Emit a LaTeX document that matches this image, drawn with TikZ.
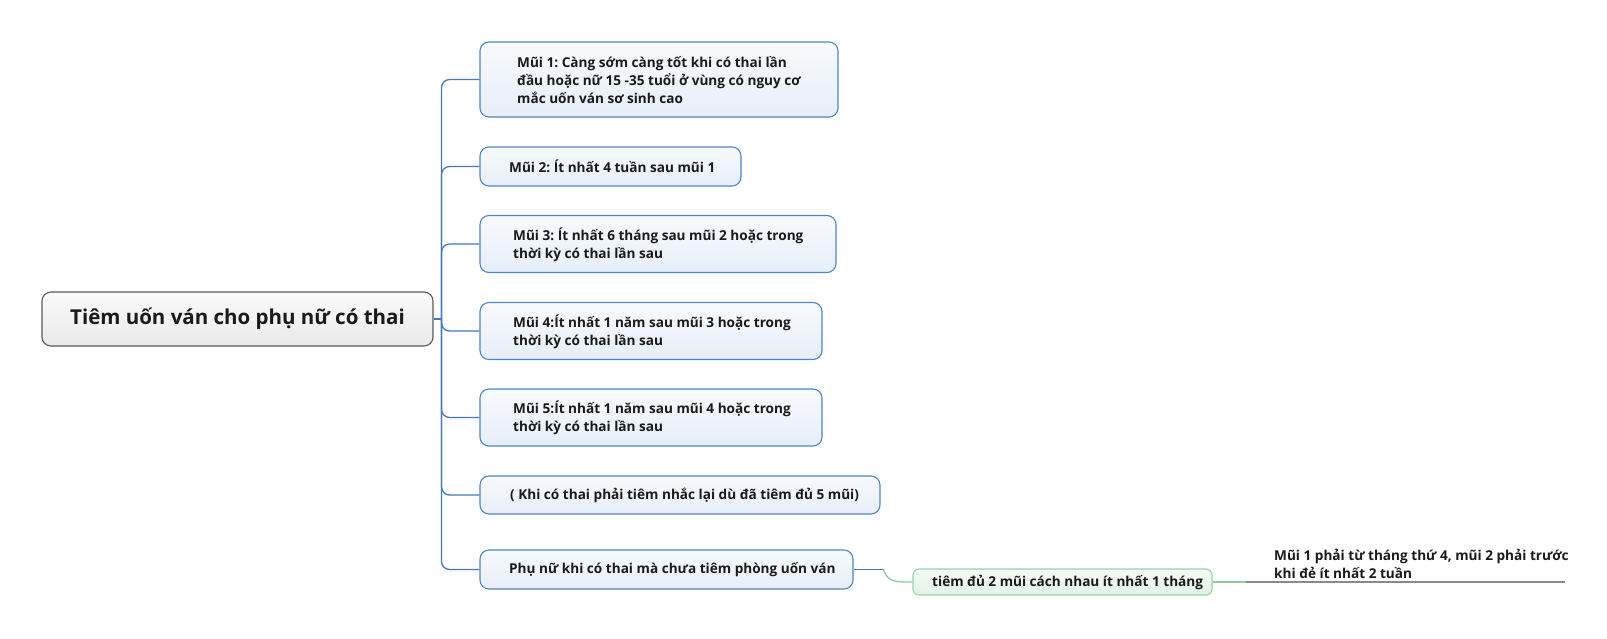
\documentclass[tikz,border=0pt]{standalone}
\usepackage{fontspec}
\setmainfont{Open Sans}
\frenchspacing
\usetikzlibrary{calc}
\definecolor{linkblue}{HTML}{4678BB}
\definecolor{boxborder}{HTML}{4F85C9}
\definecolor{boxtop}{HTML}{F8FAFD}
\definecolor{boxbot}{HTML}{E7EEF8}
\definecolor{rootborder}{HTML}{5A5A5A}
\definecolor{roottop}{HTML}{FAFAFA}
\definecolor{rootbot}{HTML}{EAEAEA}
\definecolor{gborder}{HTML}{94D3A8}
\definecolor{gtop}{HTML}{F5FBF6}
\definecolor{gbot}{HTML}{E3F2E7}
\definecolor{glink}{HTML}{8CCBA0}
\definecolor{txtcol}{HTML}{1A1A1A}
\definecolor{ulgray}{HTML}{8A8A8A}
\begin{document}
\begin{tikzpicture}[x=1pt,y=-1pt,
  topicbox/.style={draw=boxborder, line width=1.1pt, rounded corners=9pt,
    top color=boxtop, bottom color=boxbot, inner sep=0pt},
  rootbox/.style={draw=rootborder, line width=1.1pt, rounded corners=9pt,
    top color=roottop, bottom color=rootbot, inner sep=0pt},
  greenbox/.style={draw=gborder, line width=1.1pt, rounded corners=6pt,
    top color=gtop, bottom color=gbot, inner sep=0pt},
  lbl/.style={font=\bfseries\fontsize{13.6}{18}\selectfont, text=txtcol,
    align=left, inner sep=0pt, anchor=west},
  conn/.style={draw=linkblue, line width=1.3pt},
  gconn/.style={draw=glink, line width=1.3pt},
]
\useasboundingbox (0,0) rectangle (1607,638);

% root
\node[rootbox, minimum width=391pt, minimum height=54pt] (root) at (237.5,319)
  {\bfseries\fontsize{20.5}{24}\selectfont\color{txtcol}Tiêm uốn ván cho phụ nữ có thai};

% child boxes
\node[topicbox, minimum width=358pt, minimum height=75pt] (m1) at (659,79.5) {};
\node[topicbox, minimum width=261pt, minimum height=39pt] (m2) at (610.5,166.5) {};
\node[topicbox, minimum width=356pt, minimum height=57pt] (m3) at (658,244) {};
\node[topicbox, minimum width=342pt, minimum height=57pt] (m4) at (651,331) {};
\node[topicbox, minimum width=342pt, minimum height=57pt] (m5) at (651,417.5) {};
\node[topicbox, minimum width=400pt, minimum height=38pt] (m6) at (680,495) {};
\node[topicbox, minimum width=373pt, minimum height=39pt] (m7) at (666.5,569.5) {};

% texts
\node[lbl] (t1) at (517,80.5) {Mũi 1: Càng sớm càng tốt khi có thai lần\\đầu hoặc nữ 15 -35 tuổi ở vùng có nguy cơ\\mắc uốn ván sơ sinh cao};
\node[lbl] (t2) at (509,166.5) {Mũi 2: Ít nhất 4 tuần sau mũi 1};
\node[lbl] (t3) at (513,244.5) {Mũi 3: Ít nhất 6 tháng sau mũi 2 hoặc trong\\thời kỳ có thai lần sau};
\node[lbl] (t4) at (513,331.5) {Mũi 4:Ít nhất 1 năm sau mũi 3 hoặc trong\\thời kỳ có thai lần sau};
\node[lbl] (t5) at (513,418) {Mũi 5:Ít nhất 1 năm sau mũi 4 hoặc trong\\thời kỳ có thai lần sau};
\node[lbl] (t6) at (510,495.5) {( Khi có thai phải tiêm nhắc lại dù đã tiêm đủ 5 mũi)};
\node[lbl] (t7) at (509,570) {Phụ nữ khi có thai mà chưa tiêm phòng uốn ván};

% green subtopic
\node[greenbox, minimum width=299pt, minimum height=26pt] (g) at (1062.5,582) {};
\node[lbl] (gt) at (932,582.5) {tiêm đủ 2 mũi cách nhau ít nhất 1 tháng};

% floating note
\node[lbl] (ft) at (1274,564) {Mũi 1 phải từ tháng thứ 4, mũi 2 phải trước\\khi đẻ ít nhất 2 tuần};

% trunk connectors
\coordinate (tr) at ($(root.east)+(8,0)$);
\draw[conn] (root.east) -- (tr);
\foreach \n in {m1,m2,m3,m4,m5,m6,m7}
  \draw[conn, rounded corners=8pt] (tr) |- (\n.west);

% to green subtopic
\coordinate (bend) at ($(m7.east)+(30,0)$);
\draw[conn] (m7.east) -- (bend);
\draw[gconn] (bend) .. controls +(4,13) and +(-16,0) .. (g.west);
\coordinate (gend) at ($(g.east)+(33,0)$);
\draw[gconn] (g.east) -- (gend);
\coordinate (uend) at (1565,582);
\draw[ulgray, line width=1.2pt] (gend) -- (uend);
\end{tikzpicture}
\end{document}
